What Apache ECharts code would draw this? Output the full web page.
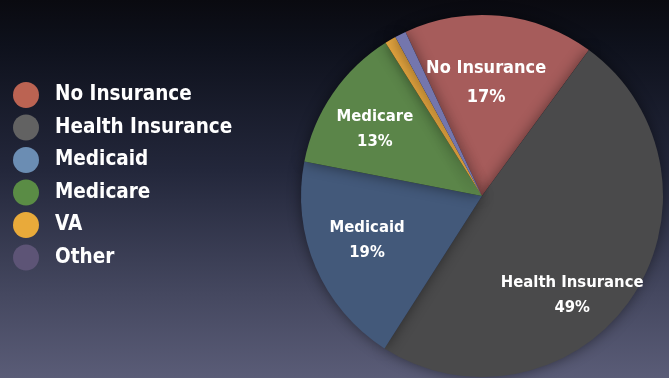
<!DOCTYPE html>
<html>
<head>
<meta charset="utf-8">
<script src="https://cdn.jsdelivr.net/npm/echarts@6/dist/echarts.min.js"></script>
<style>
  html, body { margin: 0; padding: 0; }
  #chart { width: 669px; height: 378px; }
</style>
</head>
<body>
<div id="chart"></div>
<script>
// Health coverage shares (percent)
const categories = ['No Insurance', 'Health Insurance', 'Medicaid', 'Medicare', 'VA', 'Other'];
const shares = [17, 49, 19, 13, 1, 1];

// Slice and legend swatch colours
const sliceColors = ['#a65c5b', '#4a4a4b', '#43597a', '#5b8549', '#e0a23e', '#7476ad'];
const legendColors = ['#bb6352', '#626262', '#6b8db3', '#5a8c45', '#e9aa3a', '#5d5476'];

// Slices that carry a label, with a nudge away from the default inside spot
const labelNudge = {
  'No Insurance': [-5, -20],
  'Health Insurance': [13, 46],
  'Medicaid': [-29, 7],
  'Medicare': [-30, -14]
};
const labelSize = { 'No Insurance': 18 };
const labelLead = { 'No Insurance': 29 };

const font = '"Liberation Sans Narrow", "DejaVu Sans Condensed", "Liberation Sans", sans-serif';

const pieData = categories.map((name, i) => {
  const nudge = labelNudge[name];
  const size = labelSize[name] || 16.5;
  return {
    name: name,
    value: shares[i],
    itemStyle: { color: sliceColors[i] },
    label: nudge ? {
      show: true,
      offset: nudge,
      fontSize: size,
      lineHeight: labelLead[name] || 25
    } : { show: false }
  };
});

const chart = echarts.init(document.getElementById('chart'), null, { renderer: 'canvas' });
chart.setOption({
  animation: false,
  backgroundColor: {
    type: 'linear', x: 0, y: 0, x2: 0, y2: 1,
    colorStops: [
      { offset: 0, color: '#0a0a10' },
      { offset: 0.12, color: '#0e111c' },
      { offset: 0.45, color: '#23273b' },
      { offset: 0.78, color: '#454860' },
      { offset: 1, color: '#5a5c77' }
    ]
  },
  legend: {
    orient: 'vertical',
    left: 8,
    top: 77,
    icon: 'circle',
    itemWidth: 26,
    itemHeight: 26,
    itemGap: 6.5,
    selectedMode: false,
    textStyle: {
      color: '#ffffff',
      fontFamily: font,
      fontWeight: 'bold',
      fontSize: 20.5,
      padding: [0, 0, 0, 11]
    },
    data: categories.map((name, i) => ({
      name: name,
      itemStyle: { color: legendColors[i] }
    }))
  },
  series: [{
    type: 'pie',
    center: [482, 196],
    radius: 181,
    startAngle: 115,
    clockwise: true,
    avoidLabelOverlap: false,
    silent: true,
    itemStyle: {
      borderWidth: 0,
      shadowBlur: 14,
      shadowColor: 'rgba(0,0,0,0.45)'
    },
    label: {
      position: 'inside',
      color: '#ffffff',
      fontFamily: font,
      fontWeight: 'bold',
      formatter: p => p.name + '\n' + p.value + '%'
    },
    labelLine: { show: false },
    data: pieData
  }]
});
</script>
</body>
</html>
